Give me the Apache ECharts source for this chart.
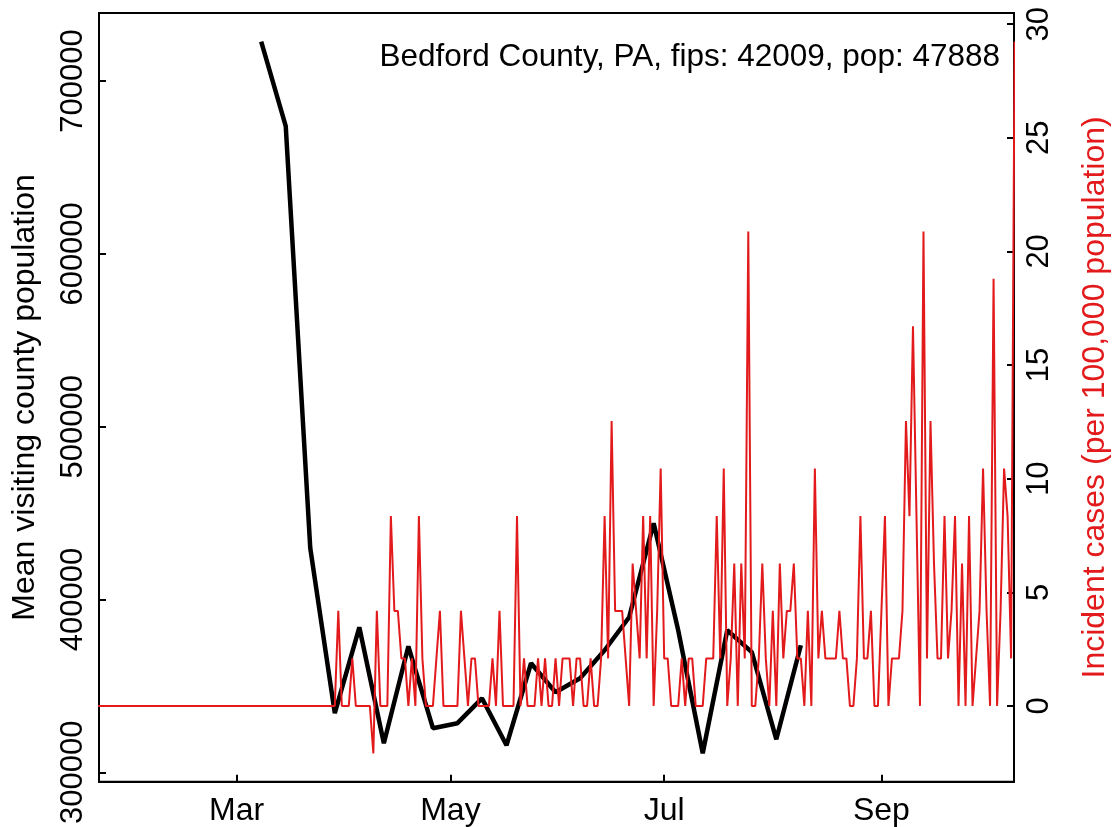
<!DOCTYPE html>
<html>
<head>
<meta charset="utf-8">
<script src="https://cdn.jsdelivr.net/npm/echarts@6.0.0/dist/echarts.min.js"></script>
<style>
  html, body { margin: 0; padding: 0; background: #fff; }
  #chart { width: 1119px; height: 827px; }
</style>
</head>
<body>
<div id="chart"></div>
<script>
// weekly mean visiting county population (black line)
const weekDates = [
  "2020-03-08", "2020-03-15", "2020-03-22", "2020-03-29", "2020-04-05", "2020-04-12",
  "2020-04-19", "2020-04-26", "2020-05-03", "2020-05-10", "2020-05-17", "2020-05-24",
  "2020-05-31", "2020-06-07", "2020-06-14", "2020-06-21", "2020-06-28", "2020-07-05",
  "2020-07-12", "2020-07-19", "2020-07-26", "2020-08-02", "2020-08-09"
];
const visitPop = [
  722900, 674000, 429700, 334200, 383900, 316800, 372900, 325500, 328400, 342800,
  315600, 363100, 346300, 354400, 370600, 389700, 444100, 382200, 311000, 382200,
  369500, 319100, 373500
];

// daily incident cases per 100,000 (red line), one value per day from this date
const caseStart = "2020-01-21";
const caseRate = [
  // Jan 21 - Mar 28
  0, 0, 0, 0, 0, 0, 0, 0, 0, 0, 0, 0, 0, 0, 0, 0, 0, 0, 0, 0,
  0, 0, 0, 0, 0, 0, 0, 0, 0, 0, 0, 0, 0, 0, 0, 0, 0, 0, 0, 0,
  0, 0, 0, 0, 0, 0, 0, 0, 0, 0, 0, 0, 0, 0, 0, 0, 0, 0, 0, 0,
  0, 0, 0, 0, 0, 0, 0, 0, 0,
  // Mar 30 on
  4.18, 0, 0, 0, 2.09, 0, 0, 0, 0, 0, -2.09,
  4.18, 0, 0, 0, 8.35, 4.18, 4.18, 2.09, 2.09, 0,
  2.09, 0, 8.35, 2.09, 0, 0, 0, 2.09, 4.18, 0,
  0, 0, 0, 0, 4.18, 2.09, 0, 2.09, 2.09, 0,
  0, 0, 0, 2.09, 0, 4.18, 0, 0, 0, 0,
  8.35, 0, 2.09, 0, 0, 0, 2.09, 0, 2.09, 0,
  0, 2.09, 0, 2.09, 2.09, 2.09, 0, 2.09, 2.09, 0,
  0, 2.09, 0, 0, 2.09, 8.35, 2.09, 12.53, 4.18, 4.18,
  4.18, 2.09, 0, 6.26, 4.18, 2.09, 8.35, 2.09, 8.35, 0,
  4.18, 10.44, 2.09, 2.09, 0, 0, 0, 2.09, 0, 2.09,
  2.09, 0, 0, 0, 2.09, 2.09, 2.09, 8.35, 2.09, 10.44,
  0, 2.09, 6.26, 0, 6.26, 2.09, 20.88, 0, 0, 2.09,
  6.26, 2.09, 0, 4.18, 0, 6.26, 2.09, 4.18, 4.18, 6.26,
  2.09, 2.09, 0, 4.18, 0, 10.44, 2.09, 4.18, 2.09, 2.09,
  2.09, 2.09, 4.18, 2.09, 2.09, 0, 0, 2.09, 8.35, 2.09,
  2.09, 4.18, 0, 0, 4.18, 8.35, 0, 2.09, 2.09, 2.09,
  4.18, 12.53, 8.35, 16.71, 8.35, 0, 20.88, 2.09, 12.53, 6.26,
  2.09, 2.09, 8.35, 2.09, 4.18, 8.35, 0, 6.26, 0, 8.35,
  0, 2.09, 4.18, 10.44, 4.18, 0, 18.79, 0, 4.18, 10.44,
  8.35, 2.09, 29.24
];

const monthTicks = ["2020-03-01", "2020-05-01", "2020-07-01", "2020-09-01"];
const monthLabels = ["Mar", "May", "Jul", "Sep"];
const popTicks = [300000, 400000, 500000, 600000, 700000];
const rateTicks = [0, 5, 10, 15, 20, 25, 30];
const titleText = "Bedford County, PA, fips: 42009, pop: 47888";

// x is counted in days from Mar 1
const DAY = 86400000;
const origin = Date.parse("2020-03-01T00:00:00Z");
const dayOf = (s) => (Date.parse(s + "T00:00:00Z") - origin) / DAY;
const start = dayOf(caseStart);
const caseData = caseRate.map((v, i) => [start + i, v]);
const popData = weekDates.map((d, i) => [dayOf(d), visitPop[i]]);
const tickDays = monthTicks.map(dayOf);

const font = "Liberation Sans, Arial, Helvetica, sans-serif";
const fs = 31;
const tickStyle = { color: "#000", width: 2 };

const chart = echarts.init(document.getElementById("chart"));
chart.setOption({
  animation: false,
  title: {
    text: titleText,
    right: 114,
    top: 36,
    textStyle: { fontFamily: font, fontSize: 31.5, fontWeight: "normal", color: "#000" }
  },
  grid: {
    left: 99, right: 99, top: 13, bottom: 45,
    show: true, borderColor: "#000", borderWidth: 2, backgroundColor: "transparent"
  },
  xAxis: {
    type: "value",
    min: -39.29,
    max: 221.83,
    axisLine: { show: true, onZero: false, lineStyle: tickStyle },
    axisTick: { show: true, inside: true, length: 7, customValues: tickDays, lineStyle: tickStyle },
    axisLabel: {
      customValues: tickDays,
      color: "#000", fontFamily: font, fontSize: 32, margin: 13,
      formatter: (v) => monthLabels[tickDays.indexOf(v)] || ""
    },
    splitLine: { show: false }
  },
  yAxis: [
    {
      type: "value",
      min: 294500, max: 739400,
      name: "Mean visiting county population",
      nameLocation: "middle", nameGap: 58, nameRotate: 90,
      nameTextStyle: { fontFamily: font, fontSize: 32, color: "#000" },
      axisLine: { show: true, onZero: false, lineStyle: tickStyle },
      axisTick: { show: true, inside: true, length: 7, customValues: popTicks, lineStyle: tickStyle },
      axisLabel: {
        customValues: popTicks, rotate: 90, color: "#000", fontFamily: font, fontSize: fs, margin: 10,
        formatter: (v) => String(v)
      },
      splitLine: { show: false }
    },
    {
      type: "value",
      position: "right",
      min: -3.34, max: 30.49,
      name: "Incident cases (per 100,000 population)",
      nameLocation: "middle", nameGap: 65, nameRotate: 90,
      nameTextStyle: { fontFamily: font, fontSize: 32, color: "#e31a1c" },
      axisLine: { show: true, onZero: false, lineStyle: tickStyle },
      axisTick: { show: true, inside: true, length: 7, customValues: rateTicks, lineStyle: tickStyle },
      axisLabel: { customValues: rateTicks, rotate: 90, color: "#000", fontFamily: font, fontSize: fs, margin: 10 },
      splitLine: { show: false }
    }
  ],
  series: [
    {
      type: "line",
      yAxisIndex: 0,
      data: popData,
      showSymbol: false,
      lineStyle: { color: "#000", width: 4.5 },
      itemStyle: { color: "#000" }
    },
    {
      type: "line",
      yAxisIndex: 1,
      data: caseData,
      showSymbol: false,
      clip: true,
      lineStyle: { color: "#e31a1c", width: 2 },
      itemStyle: { color: "#e31a1c" }
    }
  ]
});
</script>
</body>
</html>
